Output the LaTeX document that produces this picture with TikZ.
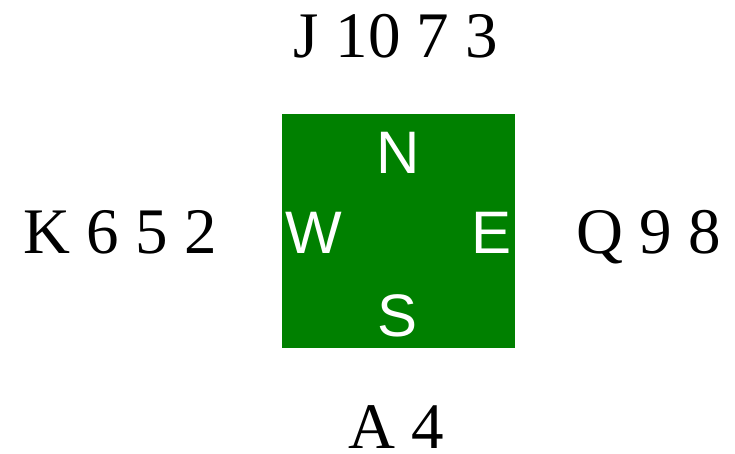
\documentclass[tikz,border=0pt]{standalone}
\usepackage{fontspec}
\setmainfont{Liberation Serif}
\newfontfamily\compassfont{Liberation Sans}
\definecolor{tablegreen}{RGB}{0,128,0}
\begin{document}
\begin{tikzpicture}[x=1pt,y=-1pt,
  hand/.style={anchor=base,inner sep=0pt,font=\fontsize{65}{65}\selectfont,text=black},
  seat/.style={anchor=base,inner sep=0pt,font=\compassfont\fontsize{60}{60}\selectfont,text=white}]
\useasboundingbox (0,0) rectangle (735,453);
\fill[tablegreen] (282,114) rectangle (515,348);
\node[seat] (N) at (398,173) {N};
\node[seat] (S) at (398,336) {S};
\node[seat] (W) at (314,253) {W};
\node[seat] (E) at (492,253) {E};
\node[hand] (north) at (396,57) {J 10 7 3};
\node[hand] (west) at (120,253) {K 6 5 2};
\node[hand] (east) at (649,253) {Q 9 8};
\node[hand] (south) at (396,448) {A 4};
\end{tikzpicture}
\end{document}
